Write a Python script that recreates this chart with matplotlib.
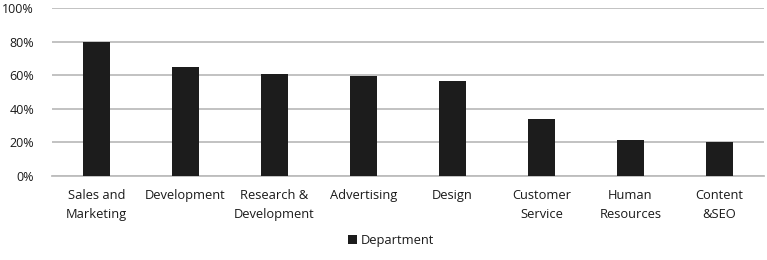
import matplotlib
matplotlib.use("Agg")
import matplotlib.pyplot as plt
from matplotlib.ticker import PercentFormatter

categories = ["Sales and\nMarketing", "Development", "Research &\nDevelopment", "Advertising",
              "Design", "Customer\nService", "Human\nResources", "Content\n&SEO"]
values = [80, 65, 60.5, 59.5, 56.5, 34, 21.5, 20]
yticks = [0, 20, 40, 60, 80, 100]

plt.rcParams['font.family'] = ['Open Sans', 'DejaVu Sans']
fig = plt.figure(figsize=(7.67, 2.6), dpi=100)
ax = fig.add_axes([0.068, 0.323, 0.928, 0.646])
x = list(range(len(categories)))
ax.bar(x, values, width=0.3, color="#1c1c1c", label="Department", zorder=3)
ax.set_xlim(-0.5, len(categories) - 0.5)
ax.set_ylim(0, 100)
ax.set_yticks(yticks)
ax.yaxis.set_major_formatter(PercentFormatter(decimals=0))
ax.set_xticks(x)
ax.set_xticklabels(categories, fontsize=9.3, color="#1a1a1a", linespacing=1.6)
ax.tick_params(axis='y', labelsize=9, labelcolor="#1a1a1a", length=0, pad=13)
ax.tick_params(axis='x', length=0, pad=9)
ax.grid(axis='y', color="#bdbdbd", linewidth=1.3, zorder=0)
for s in ["top", "right", "left"]:
    ax.spines[s].set_visible(False)
ax.spines["bottom"].set_color("#bdbdbd")
ax.spines["bottom"].set_linewidth(1.3)
leg = fig.legend(loc="center", bbox_to_anchor=(0.51, 0.075), frameon=False, fontsize=9.3,
                 handlelength=0.7, handleheight=0.7, handletextpad=0.3)
for t in leg.get_texts():
    t.set_color("#1a1a1a")
fig.savefig("out.png", dpi=100)
